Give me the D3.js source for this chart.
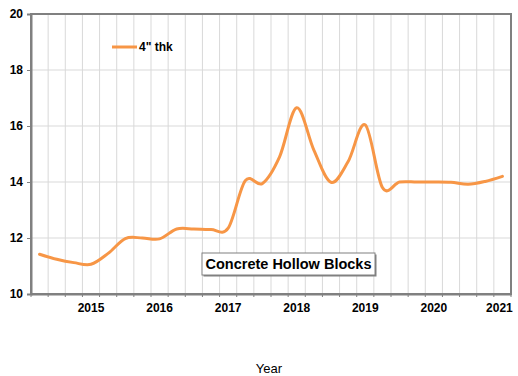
<!DOCTYPE html>
<html>
<head>
<meta charset="utf-8">
<script src="https://cdn.jsdelivr.net/npm/d3@7"></script>
<style>
  html, body { margin: 0; padding: 0; background: #fff; }
  svg { display: block; font-family: "Liberation Sans", Arial, sans-serif; }
</style>
</head>
<body>
<svg id="chart" width="518" height="376"></svg>
<script>
// ---- data ----
const categories = [
  "2014 Q2","2014 Q3","2014 Q4","2015 Q1","2015 Q2","2015 Q3","2015 Q4",
  "2016 Q1","2016 Q2","2016 Q3","2016 Q4","2017 Q1","2017 Q2","2017 Q3",
  "2017 Q4","2018 Q1","2018 Q2","2018 Q3","2018 Q4","2019 Q1","2019 Q2",
  "2019 Q3","2019 Q4","2020 Q1","2020 Q2","2020 Q3","2020 Q4","2021 Q1"
];
const values4thk = [
  11.42, 11.24, 11.12, 11.06, 11.45, 11.98, 12.00,
  11.97, 12.32, 12.32, 12.30, 12.35, 14.05, 13.95,
  14.90, 16.65, 15.14, 13.99, 14.73, 16.04, 13.80,
  14.00, 14.00, 14.00, 13.99, 13.92, 14.02, 14.20
];
const xTickLabels = {
  "2015 Q1": "2015", "2016 Q1": "2016", "2017 Q1": "2017", "2018 Q1": "2018",
  "2019 Q1": "2019", "2020 Q1": "2020", "2021 Q1": "2021"
};
const yTicks = [10, 12, 14, 16, 18, 20];
const seriesName = "4\" thk";
const annotation = "Concrete Hollow Blocks";
const xTitle = "Year";

// ---- layout ----
const svg = d3.select("#chart");
const L = 31, T = 14, R = 511, B = 294;

const x = d3.scaleBand().domain(categories).range([L, R]).padding(0);
const y = d3.scaleLinear().domain([10, 20]).range([B, T]);

const gridColor = "#d9d9d9";
const axisColor = "#808080";

// vertical gridlines at band boundaries
const bounds = categories.map(c => x(c)).concat([R]);
svg.append("g").selectAll("line").data(bounds.slice(1, -1)).join("line")
  .attr("x1", d => d).attr("x2", d => d)
  .attr("y1", T).attr("y2", B)
  .attr("stroke", gridColor).attr("stroke-width", 1);

// horizontal gridlines
svg.append("g").selectAll("line").data(yTicks.slice(1, -1)).join("line")
  .attr("x1", L).attr("x2", R)
  .attr("y1", d => y(d)).attr("y2", d => y(d))
  .attr("stroke", gridColor).attr("stroke-width", 1);

// plot border
svg.append("rect").attr("x", L).attr("y", T).attr("width", R - L).attr("height", B - T)
  .attr("fill", "none").attr("stroke", axisColor).attr("stroke-width", 2);

// y axis
const yAxis = d3.axisLeft(y).tickValues(yTicks).tickSize(4).tickPadding(4).tickFormat(d3.format("d"));
const gy = svg.append("g").attr("transform", `translate(${L},0)`).call(yAxis);
gy.select(".domain").attr("stroke", axisColor).attr("stroke-width", 2);
gy.selectAll(".tick line").attr("stroke", axisColor);
gy.selectAll(".tick text").attr("font-size", 12).attr("font-weight", "bold")
  .attr("font-family", "Liberation Sans, Arial, sans-serif").attr("fill", "#000");

// x axis (labels only on year categories)
const xAxis = d3.axisBottom(x).tickSize(0).tickPadding(9)
  .tickFormat(d => xTickLabels[d] || "");
const gx = svg.append("g").attr("transform", `translate(0,${B})`).call(xAxis);
gx.select(".domain").attr("stroke", axisColor).attr("stroke-width", 2);
gx.selectAll(".tick text").attr("font-size", 12).attr("font-weight", "bold")
  .attr("font-family", "Liberation Sans, Arial, sans-serif").attr("fill", "#000");
gx.selectAll(".tick text").filter(d => d === categories[categories.length - 1])
  .attr("dx", -3);
// small tick marks at band boundaries
svg.append("g").selectAll("line").data(bounds).join("line")
  .attr("x1", d => d).attr("x2", d => d).attr("y1", B).attr("y2", B + 3)
  .attr("stroke", axisColor).attr("stroke-width", 1);

// series line (Excel-like smoothing: uniform Catmull-Rom)
const line = d3.line()
  .x((d, i) => x(categories[i]) + x.bandwidth() / 2)
  .y(d => y(d))
  .curve(d3.curveCardinal.tension(0));
svg.append("path").datum(values4thk)
  .attr("d", line)
  .attr("fill", "none")
  .attr("stroke", "#f79646")
  .attr("stroke-width", 3)
  .attr("stroke-linejoin", "round")
  .attr("stroke-linecap", "round");

// legend
svg.append("line").attr("x1", 112).attr("x2", 137).attr("y1", 47).attr("y2", 47)
  .attr("stroke", "#f79646").attr("stroke-width", 3);
svg.append("text").attr("x", 139).attr("y", 47).attr("dy", "0.35em")
  .attr("font-size", 12).attr("font-weight", "bold").attr("fill", "#000")
  .text(seriesName);

// annotation box
const bx = 202, by = 253, bw = 173, bh = 22;
svg.append("rect").attr("x", bx + 1.5).attr("y", by + 1.5).attr("width", bw).attr("height", bh)
  .attr("fill", "#808080");
svg.append("rect").attr("x", bx).attr("y", by).attr("width", bw).attr("height", bh)
  .attr("fill", "#fff").attr("stroke", "#808080").attr("stroke-width", 1);
svg.append("text").attr("x", bx + bw / 2).attr("y", by + bh / 2).attr("dy", "0.36em")
  .attr("text-anchor", "middle").attr("font-size", 14.5).attr("font-weight", "bold")
  .attr("fill", "#000").text(annotation);

// x title
svg.append("text").attr("x", 269).attr("y", 373)
  .attr("text-anchor", "middle").attr("font-size", 13).attr("fill", "#000")
  .text(xTitle);
</script>
</body>
</html>
